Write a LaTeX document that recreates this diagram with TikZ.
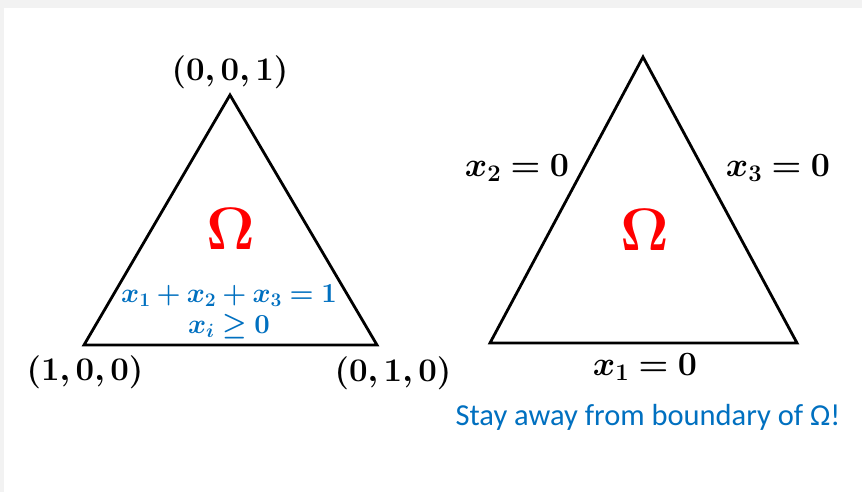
\RequirePackage{fix-cm}
\documentclass[tikz,border=0pt]{standalone}
\usepackage{amsmath,amssymb}
\usepackage{bm}
\usepackage{fontspec}
\newfontfamily\calib{Carlito}
\definecolor{omred}{HTML}{FF0000}
\definecolor{msblue}{HTML}{0070C0}
\definecolor{bggray}{HTML}{F2F2F2}
\tikzset{
  tri/.style={draw=black, line width=2.8pt, line join=miter},
  vlabel/.style={inner sep=0pt, font=\fontsize{33}{36}\selectfont},
  edgelabel/.style={inner sep=0pt, font=\fontsize{34}{38}\selectfont},
  omega/.style={inner sep=0pt, text=omred, font=\fontsize{60}{62}\selectfont},
  constr/.style={inner sep=0pt, align=center, text=msblue, font=\fontsize{27.5}{31}\selectfont},
  note/.style={inner sep=0pt, text=msblue, font=\calib\fontsize{30.5}{33}\selectfont}
}
\begin{document}
\begin{tikzpicture}[x=1pt,y=-1pt]
\fill[bggray] (0,0) rectangle (862,492);
\fill[white] (4,8) rectangle (862,492);
\useasboundingbox (0,0) rectangle (862,492);
% left triangle
\coordinate (LT) at (230,95);
\coordinate (LL) at (84,345);
\coordinate (LR) at (377,345);
\draw[tri] (LT) -- (LL) -- (LR) -- cycle;
\node[vlabel] (l001) at (230,72) {$\bm{(0,0,1)}$};
\node[vlabel] (l100) at (85,372) {$\bm{(1,0,0)}$};
\node[vlabel] (l010) at (393,373) {$\bm{(0,1,0)}$};
\node[omega] (om1) at (231,229) {$\bm{\Omega}$};
\node[constr] (cons) at (229,312) {$\bm{x_1+x_2+x_3=1}$\\$\bm{x_i\geq 0}$};
% right triangle
\coordinate (RT) at (643,57);
\coordinate (RL) at (490,343);
\coordinate (RR) at (797,343);
\draw[tri] (RT) -- (RL) -- (RR) -- cycle;
\node[edgelabel] (e2) at (517,168) {$\bm{x_2=0}$};
\node[edgelabel] (e3) at (778,168) {$\bm{x_3=0}$};
\node[edgelabel] (e1) at (645,367) {$\bm{x_1=0}$};
\node[omega] (om2) at (645,230) {$\bm{\Omega}$};
\node[note] (stay) at (648,417) {Stay away from boundary of Ω!};
\end{tikzpicture}
\end{document}
